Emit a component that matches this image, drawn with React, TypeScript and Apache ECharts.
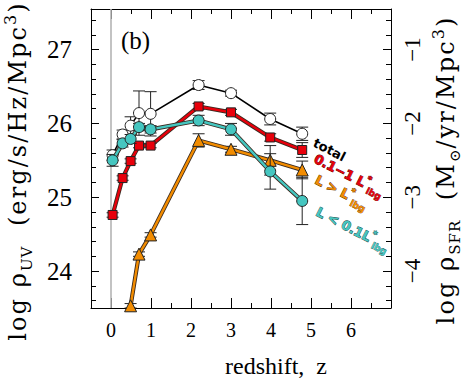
import React, { useEffect, useRef } from "react";
import * as echarts from "echarts";

// redshifts
const zAll = [0.04, 0.29, 0.49, 0.7, 0.99, 2.19, 3.0, 3.98, 4.78];
const zBright = [0.49, 0.7, 0.99, 2.19, 3.0, 3.98, 4.78];
// log rho_UV
const totalVals = [25.57, 25.85, 25.97, 26.14, 26.13, 26.52, 26.41, 26.06, 25.86];
const totalErr = [0.07, 0.06, 0.12, 0.3, 0.3, 0.06, 0.04, 0.08, 0.09];
const midVals = [24.76, 25.26, 25.49, 25.7, 25.7, 26.23, 26.15, 25.81, 25.64];
const midErr = [0.03, 0.03, 0.03, 0.03, 0.03, 0.04, 0.04, 0.05, 0.1];
const faintVals = [25.5, 25.73, 25.79, 25.95, 25.92, 26.04, 25.92, 25.35, 24.95];
const faintErr = [0.08, 0.05, 0.06, 0.05, 0.05, 0.07, 0.08, 0.24, 0.32];
const brightVals = [23.53, 24.23, 24.49, 25.77, 25.65, 25.5, 25.37];
const brightErr = [0.03, 0.03, 0.03, 0.09, 0.04, 0.2, 0.12];

const xLabels = [0, 1, 2, 3, 4, 5, 6];
const xMinorTicks = [-0.5, 0, 0.5, 1, 1.5, 2, 2.5, 3, 3.5, 4, 4.5, 5, 5.5, 6, 6.5];
const yLabels = [24, 25, 26, 27];
const sfrLabels = [-4, -3, -2, -1];
const SFR_OFFSET = 28;
const Y_MIN = 23.5;
const Y_MAX = 27.55;
const zeroLine = [[0, Y_MIN, Y_MAX]];

const fam = "'Liberation Serif', 'DejaVu Serif', serif";
const titleFam = "'DejaVu Serif', 'Liberation Serif', serif";
const sans = "'DejaVu Sans', sans-serif";

function range(a: number, b: number, step: number) {
  const out: number[] = [];
  for (let v = a; v <= b + 1e-9; v += step) out.push(Math.round(v * 10) / 10);
  return out;
}

function spaced(str: string, style: string) {
  return str
    .split("")
    .map((ch) => `{${style}|${ch}}`)
    .join("");
}

function errSeries(z: number[], y: number[], e: number[], zi: number) {
  return {
    type: "custom",
    xAxisIndex: 0,
    yAxisIndex: 0,
    z: zi,
    clip: true,
    silent: true,
    encode: { x: 0, y: [1, 2] },
    data: z.map((zz, i) => [zz, y[i] - e[i], y[i] + e[i]]),
    renderItem: (params: any, api: any) => {
      const x = api.value(0);
      const lo = api.coord([x, api.value(1)]);
      const hi = api.coord([x, api.value(2)]);
      const w = 6;
      const st = { stroke: "#222", lineWidth: 1 };
      return {
        type: "group",
        children: [
          { type: "line", shape: { x1: lo[0], y1: lo[1], x2: hi[0], y2: hi[1] }, style: st },
          { type: "line", shape: { x1: lo[0] - w, y1: lo[1], x2: lo[0] + w, y2: lo[1] }, style: st },
          { type: "line", shape: { x1: hi[0] - w, y1: hi[1], x2: hi[0] + w, y2: hi[1] }, style: st },
        ],
      };
    },
  };
}

function lineSeries(name: string, z: number[], y: number[], color: string, symbol: string, size: number, zi: number, outline: boolean) {
  const data = z.map((zz, i) => [zz, y[i]]);
  const out: any[] = [];
  if (outline) {
    out.push({
      type: "line",
      xAxisIndex: 0,
      yAxisIndex: 0,
      z: zi,
      data,
      symbol: "none",
      silent: true,
      lineStyle: { color: "#3a2a20", width: 4.2 },
    });
  }
  out.push({
    name,
    type: "line",
    xAxisIndex: 0,
    yAxisIndex: 0,
    z: zi,
    data,
    symbol,
    symbolSize: size,
    lineStyle: { color, width: outline ? 2.4 : 1.6 },
    itemStyle: { color: outline ? color : "#fff", borderColor: "#222", borderWidth: 1 },
  });
  return out;
}

function labelRich(fill: string, stroke: string) {
  const base = { fontWeight: "bold", fontFamily: sans, fill, stroke, lineWidth: 0.9 };
  return {
    t: { ...base, fontSize: 13, lineHeight: 20 },
    sup: { ...base, fontSize: 9, lineHeight: 9, verticalAlign: "top", lineWidth: 0.6 },
    sub: { ...base, fontSize: 9, lineHeight: 9, verticalAlign: "bottom", lineWidth: 0.6 },
  };
}

export default function App() {
  const ref = useRef<HTMLDivElement>(null);
  useEffect(() => {
    if (!ref.current) return;
    const chart = echarts.init(ref.current, null, { renderer: "svg" });
    const grid = { left: 91, right: 72, top: 9, bottom: 82 };
    const axisLine = { show: true, onZero: false, lineStyle: { color: "#000", width: 1 } };
    const noLine = { show: false, onZero: false };
    const xBase = { type: "value", min: -0.5, max: 7, splitLine: { show: false } };
    const yBase = { type: "value", min: Y_MIN, max: Y_MAX, splitLine: { show: false } };
    const rBase = { type: "value", min: Y_MIN - SFR_OFFSET, max: Y_MAX - SFR_OFFSET, splitLine: { show: false } };
    const tickStyle = { color: "#000", width: 1 };
    const yMinor = range(23.6, 27.4, 0.2);
    const rMinor = range(-4.4, -0.6, 0.2);
    const fmtMinus = (v: number) => (v < 0 ? "\u2212" + Math.abs(v) : String(v));
    const titleRich = {
      n: { fontSize: 24, fontFamily: titleFam, lineHeight: 32, fill: "#000", padding: [0, 2.1, 0, 0] },
      sub: { fontSize: 15, fontFamily: titleFam, lineHeight: 15, verticalAlign: "bottom", fill: "#000", padding: [0, 1, 0, 0] },
      sup: { fontSize: 16, fontFamily: titleFam, lineHeight: 16, verticalAlign: "top", fill: "#000", padding: [0, 2, 0, 0] },
    };
    const leftTitle =
      spaced("log ρ", "n") + spaced("UV", "sub") + spaced("  (erg/s/Hz/Mpc", "n") + "{sup|3}" + "{n|)}";
    const rightTitle =
      spaced("log ρ", "n") + spaced("SFR", "sub") + spaced("  (M", "n") + "{sub|⊙}" + spaced("/yr/Mpc", "n") + "{sup|3}" + "{n|)}";

    const option: any = {
      animation: false,
      grid,
      xAxis: [
        {
          ...xBase,
          position: "bottom",
          axisLine,
          axisTick: { inside: true, length: 5, lineStyle: tickStyle, customValues: xMinorTicks },
          axisLabel: { customValues: xLabels, fontSize: 20, fontFamily: fam, color: "#000", margin: 12 },
        },
        {
          ...xBase,
          position: "bottom",
          axisLine: noLine,
          axisTick: { inside: true, length: 10, lineStyle: tickStyle, customValues: xLabels },
          axisLabel: { show: false },
        },
        {
          ...xBase,
          position: "top",
          axisLine,
          axisTick: { inside: true, length: 5, lineStyle: tickStyle, customValues: xMinorTicks },
          axisLabel: { show: false },
        },
        {
          ...xBase,
          position: "top",
          axisLine: noLine,
          axisTick: { inside: true, length: 10, lineStyle: tickStyle, customValues: xLabels },
          axisLabel: { show: false },
        },
      ],
      yAxis: [
        {
          ...yBase,
          position: "left",
          axisLine,
          axisTick: { inside: true, length: 5, lineStyle: tickStyle, customValues: yMinor },
          axisLabel: { customValues: yLabels, fontSize: 25, fontFamily: fam, color: "#000", margin: 19 },
        },
        {
          ...yBase,
          position: "left",
          axisLine: noLine,
          axisTick: { inside: true, length: 8, lineStyle: tickStyle, customValues: yLabels },
          axisLabel: { show: false },
        },
        {
          ...rBase,
          position: "right",
          axisLine,
          axisTick: { inside: true, length: 5, lineStyle: tickStyle, customValues: rMinor },
          axisLabel: {
            customValues: sfrLabels,
            rotate: 90,
            fontSize: 23,
            fontFamily: fam,
            color: "#000",
            margin: 10,
            formatter: fmtMinus,
          },
        },
        {
          ...rBase,
          position: "right",
          axisLine: noLine,
          axisTick: { inside: true, length: 8, lineStyle: tickStyle, customValues: sfrLabels },
          axisLabel: { show: false },
        },
      ],
      series: [
        {
          type: "custom",
          xAxisIndex: 0,
          yAxisIndex: 0,
          z: 2,
          silent: true,
          clip: true,
          encode: { x: 0, y: [1, 2] },
          data: zeroLine,
          renderItem: (params: any, api: any) => {
            const a = api.coord([api.value(0), api.value(1)]);
            const b = api.coord([api.value(0), api.value(2)]);
            return {
              type: "line",
              shape: { x1: a[0], y1: a[1], x2: b[0], y2: b[1] },
              style: { stroke: "#b4b4b4", lineWidth: 1.6 },
            };
          },
        },
        errSeries(zBright, brightVals, brightErr, 2),
        ...lineSeries("L > L*", zBright, brightVals, "#f28c00", "triangle", 12, 2, true),
        errSeries(zAll, midVals, midErr, 3),
        ...lineSeries("0.1-1 L*", zAll, midVals, "#e8000b", "rect", 9, 3, true),
        errSeries(zAll, totalVals, totalErr, 4),
        ...lineSeries("total", zAll, totalVals, "#000", "circle", 11, 4, false),
        errSeries(zAll, faintVals, faintErr, 5),
        ...lineSeries("L < 0.1 L*", zAll, faintVals, "#45c6c0", "circle", 11, 5, true),
      ],
      graphic: [
        {
          type: "text",
          x: 121,
          y: 40,
          style: { text: "(b)", fontSize: 25, fontFamily: fam, fill: "#000", textVerticalAlign: "middle" },
        },
        {
          type: "text",
          x: 276,
          y: 366,
          style: { text: "redshift,  z", fontSize: 24, fontFamily: fam, fill: "#000", textAlign: "center", textVerticalAlign: "middle" },
        },
        {
          type: "text",
          x: 18,
          y: 171,
          rotation: Math.PI / 2,
          style: {
            text: leftTitle,
            textAlign: "center",
            textVerticalAlign: "middle",
            fill: "#000",
            rich: titleRich,
          },
        },
        {
          type: "text",
          x: 446,
          y: 170,
          rotation: Math.PI / 2,
          style: {
            text: rightTitle,
            textAlign: "center",
            textVerticalAlign: "middle",
            fill: "#000",
            rich: titleRich,
          },
        },
        {
          type: "text",
          x: 314,
          y: 142,
          rotation: -0.47,
          style: {
            text: "total",
            fontSize: 13,
            fontWeight: "bold",
            fontFamily: sans,
            fill: "#000",
            textVerticalAlign: "middle",
          },
        },
        {
          type: "text",
          x: 315,
          y: 158,
          rotation: -0.47,
          style: { text: "{t|0.1−1 L}{sup|*}{sub|lbg}", textVerticalAlign: "middle", rich: labelRich("#e8000b", "#5a0000") },
        },
        {
          type: "text",
          x: 316,
          y: 179,
          rotation: -0.47,
          style: { text: "{t|L > L}{sup|*}{sub|lbg}", textVerticalAlign: "middle", rich: labelRich("#f28c00", "#5a3000") },
        },
        {
          type: "text",
          x: 317,
          y: 211,
          rotation: -0.47,
          style: { text: "{t|L < 0.1L}{sup|*}{sub|lbg}", textVerticalAlign: "middle", rich: labelRich("#45c6c0", "#1e4e4c") },
        },
      ],
    };
    chart.setOption(option);
    return () => chart.dispose();
  }, []);
  return (
    <div
      ref={ref}
      style={{ position: "fixed", left: 0, top: 0, width: 463, height: 390, background: "#fff" }}
    />
  );
}
